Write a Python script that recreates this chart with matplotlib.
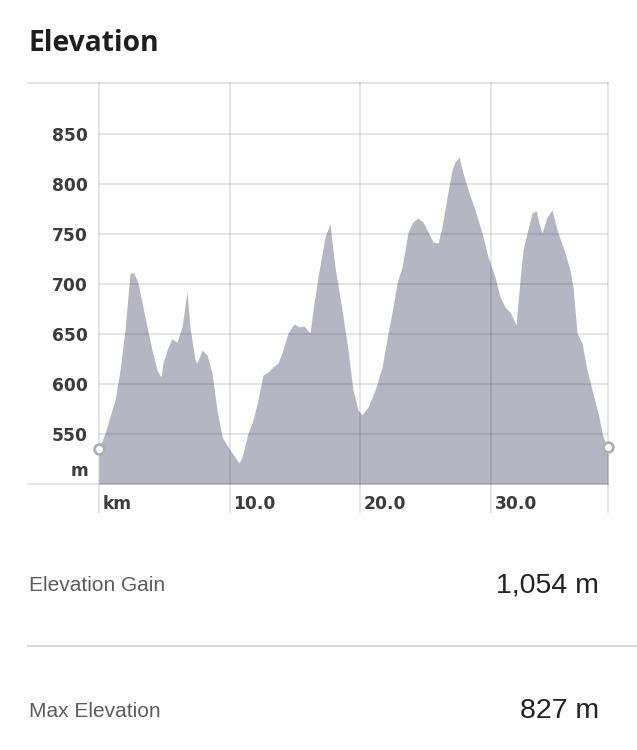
import matplotlib
matplotlib.use("Agg")
from matplotlib import pyplot as plt
from matplotlib.lines import Line2D

# elevation profile (km, m)
km = [0.0, 0.46, 1.23, 1.61, 1.99, 2.38, 2.68, 2.99, 3.52, 4.06,
      4.44, 4.75, 4.90, 5.29, 5.59, 5.98, 6.36, 6.74, 6.97, 7.36,
      7.51, 7.89, 8.28, 8.66, 9.04, 9.43, 9.89, 10.42, 10.73, 10.96,
      11.42, 11.80, 12.18, 12.57, 12.95, 13.33, 13.72, 14.10, 14.48, 14.94,
      15.33, 15.71, 16.17, 16.40, 16.78, 17.32, 17.70, 18.08, 18.62, 19.08,
      19.46, 19.85, 20.15, 20.61, 21.15, 21.69, 22.15, 22.53, 22.84, 23.22,
      23.45, 23.68, 24.06, 24.44, 24.83, 25.21, 25.59, 25.98, 26.28, 26.67,
      27.05, 27.28, 27.59, 27.89, 28.28, 28.81, 29.35, 29.81, 30.34, 30.73,
      31.11, 31.49, 31.72, 31.95, 32.26, 32.49, 32.80, 33.18, 33.49, 33.79,
      33.95, 34.33, 34.71, 35.10, 35.71, 36.09, 36.32, 36.63, 37.01, 37.39,
      37.78, 38.24, 38.62, 39.00]
elev = [535, 551, 584, 614, 654, 711, 711, 701, 667, 634,
        614, 607, 621, 637, 645, 642, 657, 692, 657, 624,
        621, 634, 629, 611, 574, 547, 537, 527, 521, 527,
        551, 564, 584, 609, 612, 617, 621, 634, 651, 660,
        657, 658, 651, 674, 707, 747, 760, 717, 674, 634,
        594, 574, 569, 577, 594, 617, 651, 677, 701, 717,
        734, 752, 762, 766, 762, 752, 742, 741, 757, 787,
        814, 822, 827, 811, 794, 774, 751, 727, 707, 687,
        677, 672, 666, 659, 704, 734, 751, 771, 773, 757,
        751, 767, 774, 754, 731, 714, 697, 651, 641, 614,
        594, 571, 547, 537]

y_ticks = [550, 600, 650, 700, 750, 800, 850]
x_ticks = [0, 10, 20, 30]
x_labels = ["km", "10.0", "20.0", "30.0"]

stat_names = ["Elevation Gain", "Max Elevation"]
stat_values = ["1,054 m", "827 m"]

W, H = 637, 750
fig = plt.figure(figsize=(W / 100, H / 100), dpi=100)
fig.patch.set_facecolor("white")

# axes box in pixels: x 99..608, y 83..484
ax = fig.add_axes([99 / W, 1 - 484 / H, 509 / W, 401 / H])
ax.set_xlim(0, 39.0)
ax.set_ylim(500, 901)
for s in ax.spines.values():
    s.set_visible(False)
ax.set_xticks([])
ax.set_yticks([])

ax.fill_between(km, elev, 500, color="#b4b6c2", lw=0, zorder=1)

grid = dict(color="black", alpha=0.12, lw=1.2, zorder=2)
for v in y_ticks:
    ax.axhline(v, **grid)
# top and bottom lines run out to the left edge
ax.axhline(901, xmin=-71 / 509, xmax=1, clip_on=False, **grid)
ax.axhline(500, xmin=-71 / 509, xmax=1, clip_on=False, **grid)
# vertical lines hang below the plot
for v in x_ticks + [39.0]:
    ax.axvline(v, ymin=-28 / 401, ymax=1, clip_on=False, **grid)

# start / end markers
ax.plot([km[0], km[-1]], [elev[0], elev[-1]], "o", ms=7, mfc="white",
        mec="#b0b0b0", mew=2, clip_on=False, zorder=5)

tick_font = dict(family="DejaVu Sans", weight="bold", fontsize=12.3, color="#3c3c3c")
for v in y_ticks:
    ax.text(-11 / 509, v, str(v), transform=ax.get_yaxis_transform(),
            ha="right", va="center_baseline", **tick_font)
ax.text(-11 / 509, 515, "m", transform=ax.get_yaxis_transform(),
        ha="right", va="center_baseline", **tick_font)
for v, lab in zip(x_ticks, x_labels):
    ax.text(v + 0.3, -18 / 401, lab, transform=ax.get_xaxis_transform(),
            ha="left", va="center_baseline", **tick_font)

# title
fig.text(28 / W, 1 - 51 / H, "Elevation", family="Open Sans", weight="bold",
         fontsize=20.3, color="#1e1e1e", ha="left", va="baseline")

# stats below the chart
name_y = [591, 717]
for name, val, yb in zip(stat_names, stat_values, name_y):
    fig.text(29 / W, 1 - yb / H, name, family="Liberation Sans", fontsize=15,
             color="#5c5c5c", ha="left", va="baseline")
    fig.text(599 / W, 1 - (yb + 1) / H, val, family="Liberation Sans", fontsize=20.5,
             color="#222222", ha="right", va="baseline")

fig.add_artist(Line2D([28 / W, 1], [1 - 646 / H] * 2, color="#d2d2d2", lw=1.2))

fig.savefig("out.png", dpi=100)
